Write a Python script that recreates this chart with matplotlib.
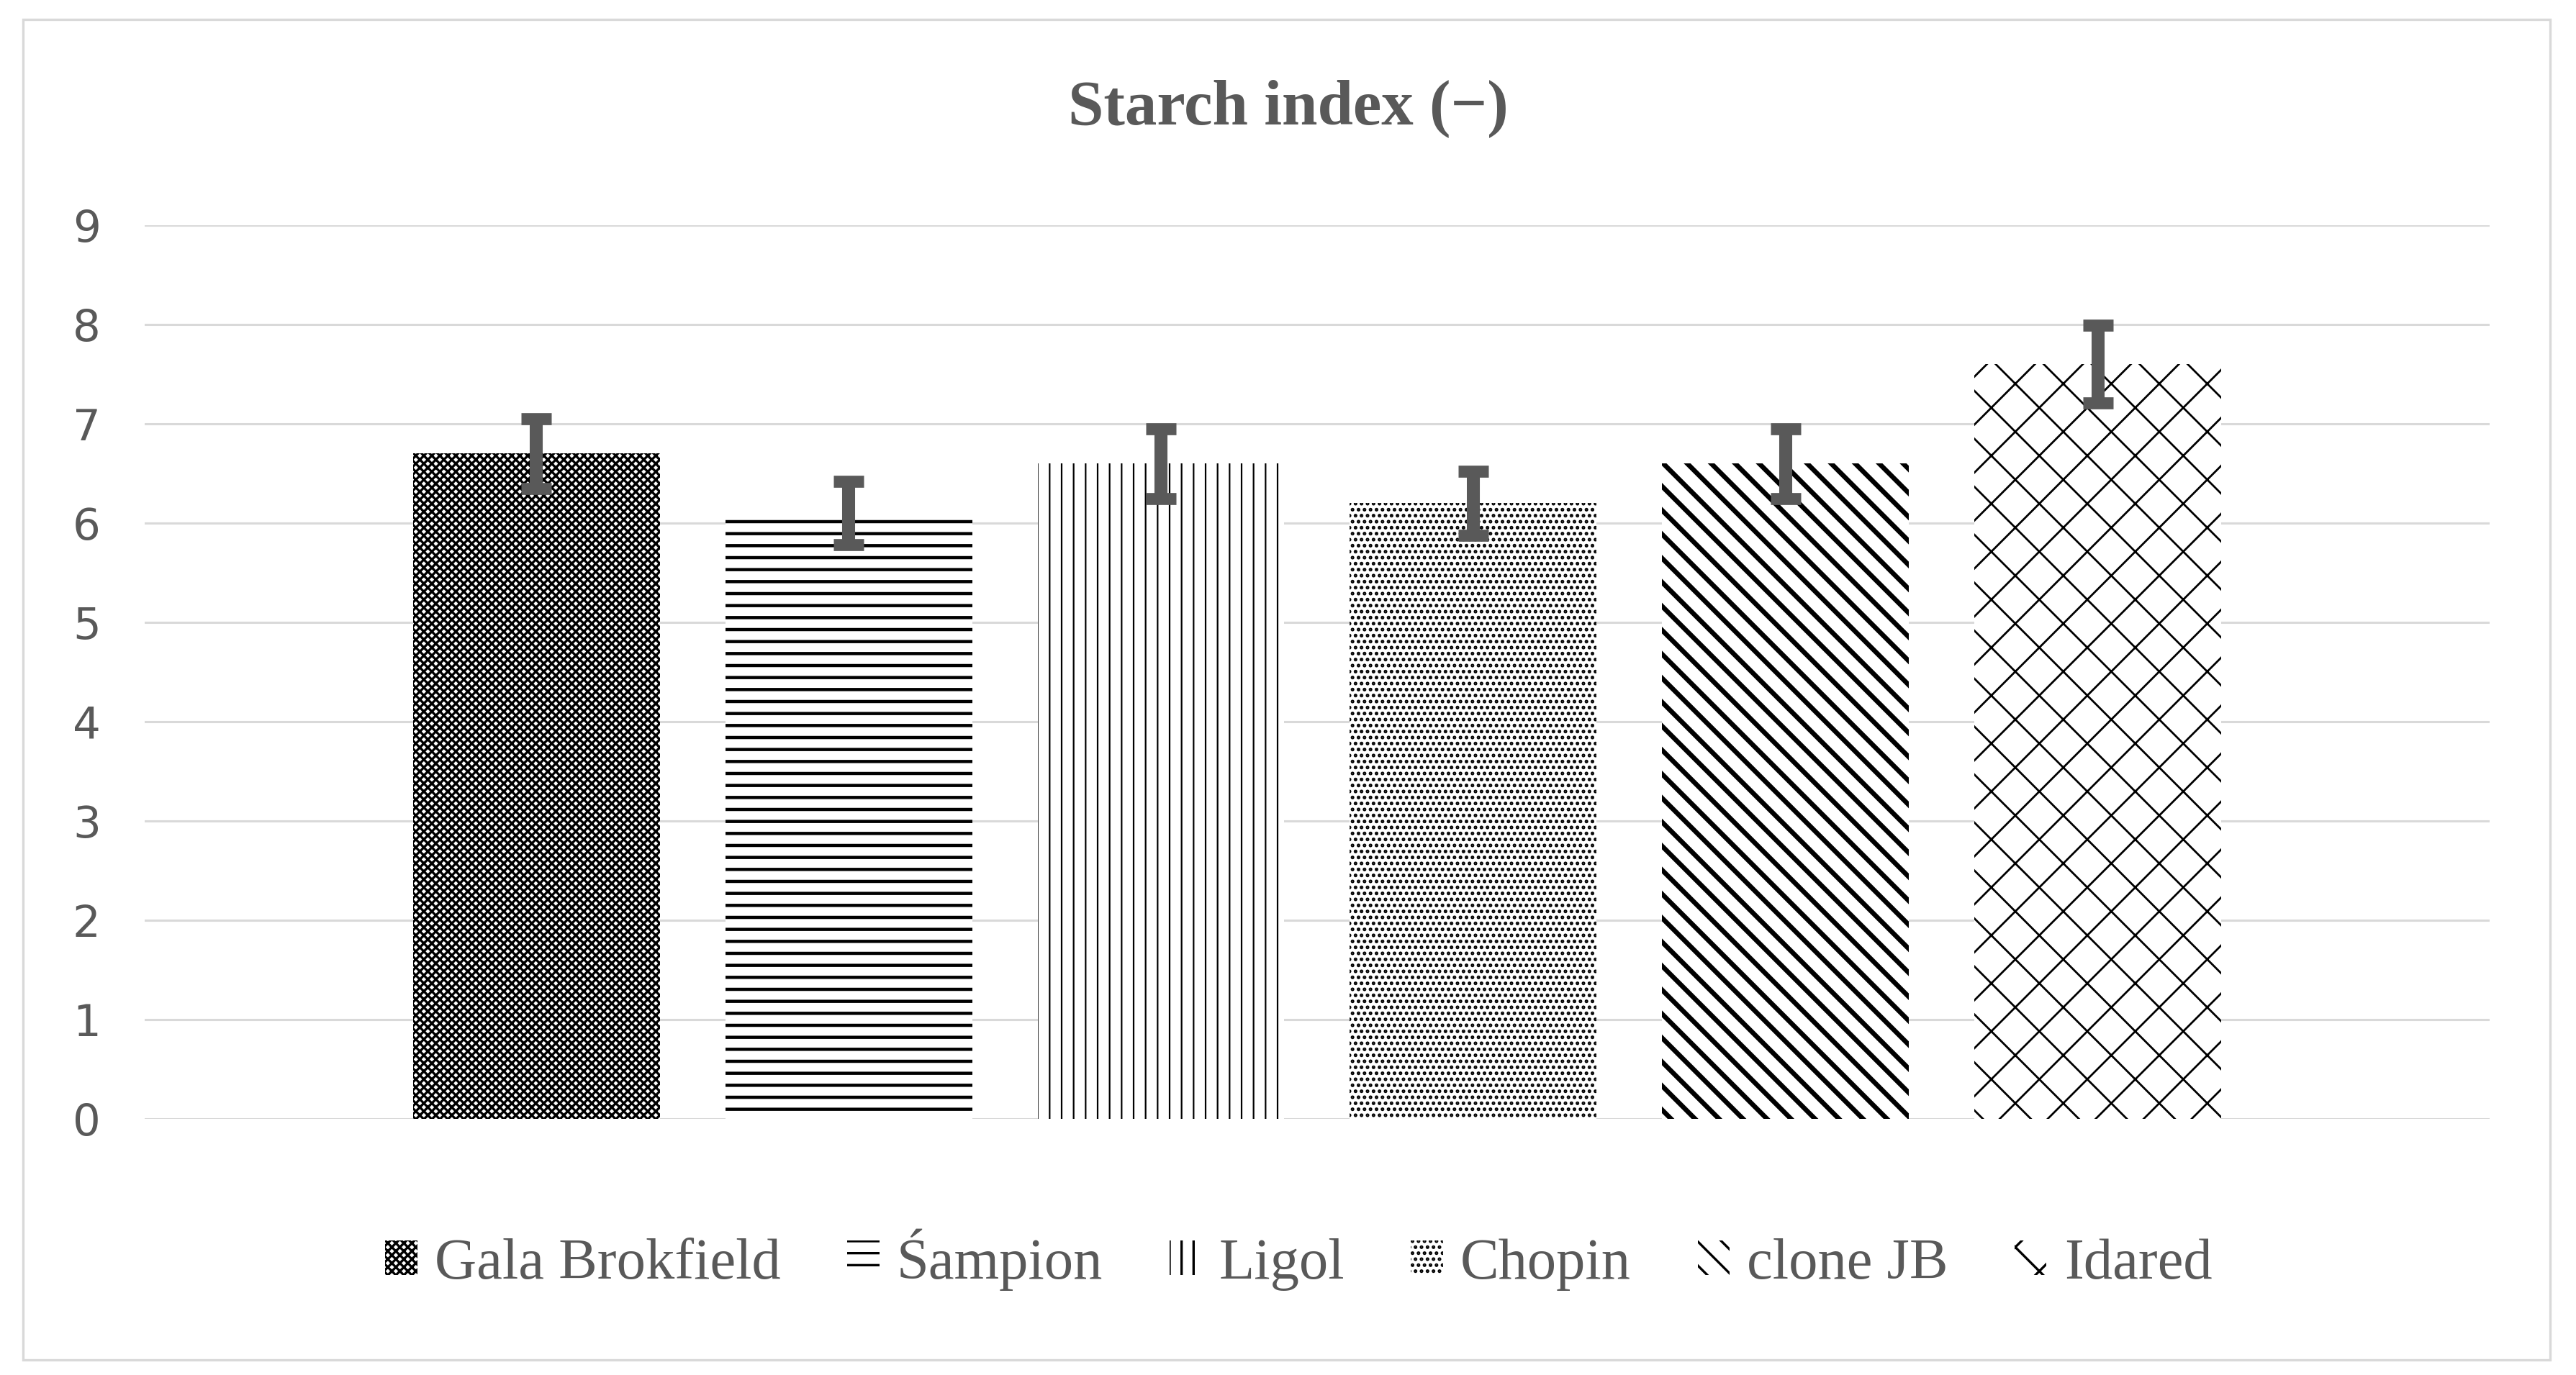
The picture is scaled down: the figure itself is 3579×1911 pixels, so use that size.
import matplotlib
matplotlib.use('Agg')
import matplotlib.pyplot as plt
from matplotlib.patches import Rectangle

# cultivars and starch index values
cultivars = ['Gala Brokfield', 'Śampion', 'Ligol', 'Chopin', 'clone JB', 'Idared']
starch = [6.7, 6.1, 6.6, 6.2, 6.6, 7.6]
errors = [0.35, 0.32, 0.35, 0.32, 0.35, 0.39]
hatches = ['xxxxxx', '--', '||', '....', '\\\\', 'x']
hatch_widths = [1.2, 1.6, 0.8, 1.2, 2.4, 1.0]
yticks = [0, 1, 2, 3, 4, 5, 6, 7, 8, 9]

text_grey = '#595959'
grid_grey = '#d9d9d9'

plt.rcParams['hatch.linewidth'] = 1.2
plt.rcParams['hatch.color'] = 'black'

fig = plt.figure(figsize=(17.9, 9.555), dpi=200)
ax = fig.add_axes([0.0561, 0.1863, 0.9101, 0.6499])

# one bar per cultivar, hatched like the original
for i, (name, val, h, hw) in enumerate(zip(cultivars, starch, hatches, hatch_widths)):
    bar = ax.bar(i, val, width=0.79, color='white', edgecolor='black',
                 linewidth=0, hatch=h, label=name, zorder=2)
    for p in bar:
        if hasattr(p, 'set_hatch_linewidth'):
            p.set_hatch_linewidth(hw)

ax.errorbar(range(len(starch)), starch, yerr=errors, fmt='none',
            ecolor=text_grey, elinewidth=6.5, capsize=7.5, capthick=6, zorder=3)

ax.set_ylim(0, 9)
ax.set_xlim(-1.255, 6.255)
ax.set_yticks(yticks)
ax.set_xticks([])
ax.yaxis.grid(True, color=grid_grey, linewidth=1.1, zorder=0)
ax.set_axisbelow(True)
for s in ax.spines.values():
    s.set_visible(False)
ax.tick_params(axis='y', length=0, pad=22, labelsize=22, labelcolor=text_grey)
for lbl in ax.get_yticklabels():
    lbl.set_fontfamily('DejaVu Sans')

fig.text(0.5, 0.921, 'Starch index (\u2212)', ha='center', va='center',
         fontsize=32, fontweight='bold', color=text_grey, family='Liberation Serif')

leg = fig.legend(loc='center', bbox_to_anchor=(0.504, 0.084), ncol=6, frameon=False,
                 prop={'family': 'Liberation Serif', 'size': 29},
                 handlelength=0.55, handleheight=0.55, handletextpad=0.3,
                 columnspacing=1.15)
for t in leg.get_texts():
    t.set_color(text_grey)

# light border round the whole chart
fig.patches.append(Rectangle((0.009, 0.011), 0.9806, 0.975, transform=fig.transFigure,
                             fill=False, edgecolor=grid_grey, linewidth=1.2))

fig.savefig('out.png', dpi=200, facecolor='white')
